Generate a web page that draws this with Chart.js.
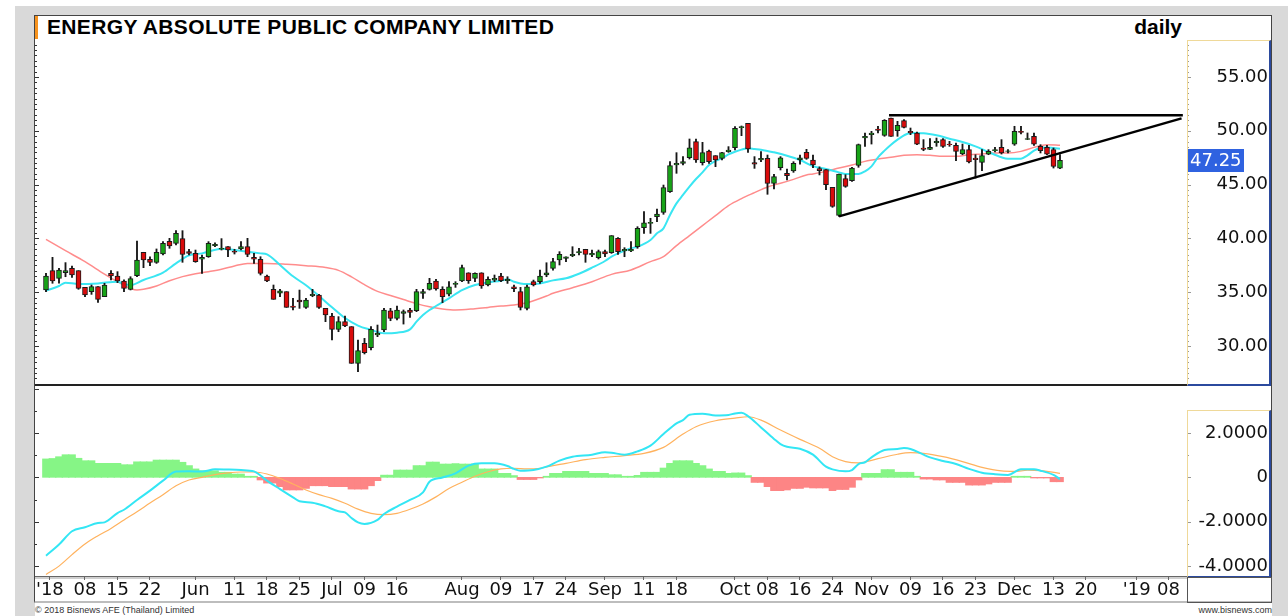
<!DOCTYPE html>
<html><head><meta charset="utf-8">
<script src="https://cdn.jsdelivr.net/npm/chart.js@4.4.0/dist/chart.umd.min.js"></script>
<style>
html,body{margin:0;padding:0;background:#fff;}
body{width:1288px;height:616px;position:relative;overflow:hidden;font-family:'Liberation Sans',Arial,sans-serif;}
.abs{position:absolute;}
.box{box-sizing:border-box;border-left:1px solid #efd999;border-top:1px solid #efd999;border-right:2px solid #2b4a9e;border-bottom:2px solid #2b4a9e;}
</style></head><body>
<div class="abs" style="left:15px;top:6px;width:1273px;height:610px;background:#d9d9d9"></div>
<div class="abs" style="left:35px;top:15px;width:1237px;height:601px;background:#fff"></div>
<div class="abs" style="left:34px;top:15px;width:1238px;height:588px;box-sizing:border-box;border:1px solid #444;border-bottom:2px solid #bdbdbd"></div>
<div class="abs" style="left:35px;top:16px;width:3px;height:23px;background:#f7931e"></div>
<div class="abs" style="left:47px;top:16px;font-weight:bold;font-size:21px;line-height:21px;letter-spacing:0.35px;color:#000;white-space:nowrap">ENERGY ABSOLUTE PUBLIC COMPANY LIMITED</div>
<div class="abs" style="right:106px;top:16px;font-weight:bold;font-size:21px;line-height:21px;color:#000">daily</div>
<div class="abs box" style="left:1187px;top:40px;width:84px;height:346px"></div>
<div class="abs box" style="left:1187px;top:410px;width:84px;height:168px"></div>
<div class="abs" style="left:35px;top:384px;width:1152px;height:2px;background:#222"></div>
<div class="abs" style="left:35px;top:576px;width:1152px;height:1px;background:#666"></div>
<div class="abs" style="left:35px;top:577px;width:1152px;height:2px;background:#cfcfcf"></div>
<div class="abs" style="left:1187px;top:577px;width:85px;height:26px;box-sizing:border-box;border:1px solid #555"></div>
<canvas id="cA" class="abs" style="left:15px;top:40px" width="1253" height="344"></canvas>
<canvas id="cB" class="abs" style="left:15px;top:385px" width="1253" height="217"></canvas>
<div class="abs" style="left:35px;top:606px;font-size:9px;line-height:9px;color:#333;white-space:nowrap">© 2018 Bisnews AFE (Thailand) Limited</div>
<div class="abs" style="right:16px;top:606px;font-size:9px;line-height:9px;color:#333;white-space:nowrap">www.bisnews.com</div>
<script>
// ---- data ----
const open = [35.21,37.0,36.29,36.82,37.22,37.0,35.45,35.05,35.52,34.59,
36.75,36.51,36.04,35.27,36.54,38.71,38.06,37.78,38.55,39.73,
39.54,39.98,38.77,38.61,38.06,38.3,39.33,38.99,39.23,38.8,
39.02,39.23,38.24,38.06,36.51,35.27,34.9,35.05,33.72,34.27,
33.59,34.68,34.74,33.5,32.79,31.55,32.26,31.8,28.39,30.25,
29.84,31.02,31.49,33.28,32.57,33.04,33.35,33.28,34.89,35.27,
36.04,35.27,34.83,35.73,36.04,36.81,36.29,36.81,35.67,36.13,
36.5,36.07,35.51,35.05,33.5,35.98,35.98,36.6,37.22,37.99,
38.15,38.4,38.68,38.99,38.46,38.21,38.77,38.68,40.01,38.83,
38.83,39.23,41.0,41.4,42.02,42.42,44.34,46.82,46.98,47.5,
48.99,47.04,48.12,47.69,47.44,48.06,48.43,50.29,50.7,47.04,
47.29,47.44,45.12,46.58,46.05,46.27,47.29,48.0,47.29,46.5,
46.39,44.75,42.14,45.55,45.37,46.79,49.33,49.64,50.17,49.58,
51.19,50.01,50.94,49.95,49.8,48.4,48.28,48.9,49.18,48.77,
48.65,47.85,48.25,47.47,47.07,47.84,48.15,48.46,48.09,48.77,
49.95,49.21,49.49,48.56,48.46,48.25,46.54];
const high = [36.75,38.24,37.22,37.75,37.44,37.0,35.45,35.67,35.52,35.83,
37.0,36.91,36.14,36.44,39.76,38.71,38.3,39.02,39.7,40.01,
40.72,40.72,38.99,38.92,38.46,39.7,39.6,39.98,39.23,38.99,
39.7,40.01,38.61,38.3,36.6,35.67,35.27,35.05,34.43,35.2,
34.43,35.27,34.8,33.5,33.04,32.73,32.79,31.8,30.56,30.71,
31.8,31.95,33.5,33.5,33.72,33.35,33.5,35.27,35.27,36.29,
36.2,35.51,35.98,35.98,37.53,36.81,36.81,36.81,36.44,36.6,
36.75,36.44,35.67,35.45,35.67,36.13,37.06,37.74,38.15,38.77,
38.3,39.23,39.08,38.99,38.92,38.92,38.92,40.26,40.07,39.14,
39.7,41.09,42.49,41.87,42.73,44.96,47.13,47.97,47.6,49.24,
49.24,48.93,48.22,47.69,48.0,48.53,50.39,50.45,50.7,47.6,
48.06,47.75,45.96,47.6,46.45,47.13,47.75,48.28,47.75,46.65,
46.39,44.75,45.99,45.92,46.61,48.77,49.8,49.95,50.42,51.04,
51.19,50.88,51.04,50.26,49.89,49.18,49.27,49.33,49.27,49.02,
48.87,48.77,48.65,47.78,48.25,48.25,48.46,49.18,48.25,50.42,
50.42,49.8,49.8,48.71,48.65,48.4,47.78];
const low = [35.05,35.83,35.83,36.44,36.38,35.27,34.59,34.8,34.06,34.59,
36.14,35.89,35.05,35.21,36.44,37.28,37.47,37.68,38.46,39.08,
39.39,37.78,38.46,37.78,36.75,38.24,39.23,38.92,38.3,38.55,
38.92,38.3,37.68,36.6,35.98,34.34,34.59,33.59,33.35,33.5,
33.5,34.58,33.5,32.26,30.56,31.33,31.8,28.39,27.61,29.26,
29.63,30.87,31.33,32.35,32.42,32.04,32.66,33.19,34.43,35.2,
35.2,34.03,34.65,35.45,35.98,35.82,35.98,35.36,35.58,35.98,
35.98,35.82,35.05,33.35,33.35,35.58,35.82,36.44,37.06,37.53,
37.84,38.3,38.46,37.78,38.3,38.09,38.3,38.61,38.52,38.3,
38.77,39.08,40.47,40.47,41.56,42.24,44.28,46.05,46.82,47.38,
47.07,46.82,46.98,46.67,47.29,48.0,48.22,49.55,48.0,46.51,
47.13,44.1,44.59,46.36,45.43,46.14,46.89,47.35,46.58,45.9,
44.53,42.89,42.05,44.75,45.3,46.61,48.56,48.77,49.8,49.49,
49.49,49.49,50.26,49.64,48.71,48.15,48.25,48.56,48.46,48.56,
47.23,47.78,47.01,45.61,46.3,47.78,48.03,47.84,47.94,48.65,
49.7,49.18,48.65,47.94,47.78,46.54,46.48];
const close = [36.51,36.04,37.06,37.0,36.6,35.36,34.74,35.52,34.34,35.67,
36.51,36.04,35.36,36.26,37.99,37.99,37.78,38.71,39.54,39.3,
40.47,38.52,38.61,37.84,38.24,39.54,39.45,39.08,38.92,38.72,
39.23,38.52,38.06,36.75,36.04,34.34,35.14,33.59,33.59,34.09,
34.27,34.8,33.59,32.88,31.55,32.26,31.86,28.39,29.57,29.38,
31.55,31.18,33.35,32.57,33.35,33.19,33.13,35.05,35.05,35.82,
35.3,34.58,35.51,35.82,37.28,36.07,36.75,35.58,36.2,36.29,
36.07,36.2,35.33,33.59,35.51,35.67,36.5,36.81,37.84,38.52,
38.3,38.52,38.77,38.52,38.61,38.77,38.55,40.26,38.77,38.99,
38.99,40.94,41.46,41.49,42.27,44.72,46.76,46.98,47.13,48.43,
47.29,47.97,47.13,47.29,47.97,48.22,50.23,50.39,48.31,46.89,
47.44,45.12,45.74,47.5,45.83,46.98,47.5,47.44,46.82,46.3,
44.99,42.98,45.99,44.84,46.54,48.71,49.49,49.8,50.04,50.97,
49.49,50.51,50.32,49.8,48.77,48.28,48.46,49.02,48.56,48.71,
48.09,48.25,47.1,47.32,47.69,48.09,48.25,47.94,48.15,49.95,
49.86,49.27,48.77,48.15,47.84,46.7,47.25];

// moving averages read at sample candles: [candle index, price]
const maFast = [[0,35.14],[2,35.58],[3,35.89],[5,35.76],[8,35.82],[11,35.98],[12,35.76],[13,35.67],[15,36.14],[18,36.82],[20,37.68],[22,38.43],[24,38.61],[27,39.05],[29,38.92],[31,38.77],[33,38.61],[34,38.52],[36,37.53],[38,36.48],[40,35.65],[42,34.65],[44,33.6],[46,32.6],[48,31.9],[50,31.5],[52,31.18],[54,31.24],[56,31.55],[57,32.26],[58,32.88],[59,33.35],[60,33.72],[62,34.43],[64,35.2],[66,35.67],[68,35.92],[70,36.07],[71,36.2],[72,35.98],[73,35.82],[74,35.76],[76,35.82],[78,36.1],[80,36.29],[82,36.72],[84,37.28],[86,37.9],[87,38.3],[88,38.61],[90,39.08],[91,39.23],[93,39.85],[94,40.47],[95,40.94],[96,42.18],[97,43.26],[98,44.04],[99,44.81],[100,45.52],[101,46.14],[102,46.82],[103,47.2],[104,47.44],[105,47.81],[106,48.06],[107,48.25],[108,48.37],[109,48.31],[110,48.25],[112,48.0],[114,47.69],[116,47.29],[118,46.72],[120,46.45],[122,46.14],[123,45.99],[125,45.99],[126,46.23],[127,46.7],[128,47.54],[129,48.16],[130,48.71],[131,49.18],[132,49.58],[133,49.8],[135,49.77],[137,49.58],[139,49.27],[141,48.96],[143,48.56],[145,48.03],[147,47.54],[148,47.41],[150,47.41],[151,47.72],[152,48.16],[153,48.4],[154,48.46],[155,48.4],[156,48.34]];
const maSlow = [[0,39.91],[3,38.86],[6,37.84],[9,36.69],[11,35.98],[13,35.36],[14,35.2],[15,35.27],[17,35.58],[19,36.07],[21,36.45],[23,36.72],[25,36.91],[27,37.13],[29,37.44],[31,37.68],[34,37.68],[37,37.6],[40,37.47],[43,37.3],[45,37.03],[47,36.43],[49,35.7],[51,35.08],[53,34.7],[55,34.32],[57,33.94],[59,33.65],[61,33.45],[63,33.35],[66,33.47],[68,33.59],[70,33.72],[72,33.81],[74,34.03],[75,34.21],[77,34.65],[78,34.9],[81,35.42],[84,35.98],[87,36.66],[90,37.07],[93,37.84],[95,38.3],[97,39.33],[99,40.26],[101,41.19],[103,42.12],[105,43.04],[107,43.7],[109,44.25],[111,44.78],[113,45.12],[115,45.49],[117,45.89],[118,45.99],[120,46.23],[122,46.54],[124,46.82],[126,47.16],[128,47.38],[130,47.54],[132,47.72],[134,47.78],[136,47.72],[138,47.63],[140,47.63],[142,47.78],[144,47.85],[146,47.94],[148,47.94],[150,48.09],[152,48.46],[154,48.71],[156,48.65]];

// MACD: [candle index, value]
const macdLine = [[0,-3.53],[2,-3.03],[4,-2.43],[6,-2.25],[8,-2.06],[9,-2.03],[11,-1.61],[12,-1.46],[14,-1.02],[16,-0.6],[18,-0.15],[20,0.26],[22,0.27],[24,0.26],[26,0.36],[28,0.35],[30,0.33],[32,0.27],[33,0.08],[34,-0.15],[36,-0.53],[38,-0.9],[39,-1.08],[41,-1.14],[43,-1.31],[45,-1.53],[46,-1.58],[47,-1.83],[48,-2.03],[49,-2.1],[51,-1.92],[52,-1.65],[54,-1.32],[56,-1.02],[58,-0.68],[59,-0.2],[61,-0.01],[63,0.18],[65,0.53],[67,0.63],[69,0.63],[71,0.51],[72,0.38],[73,0.3],[75,0.33],[77,0.48],[79,0.75],[81,0.93],[84,1.02],[86,1.13],[87,1.11],[89,1.02],[91,1.17],[93,1.43],[95,1.95],[97,2.43],[98,2.58],[99,2.82],[101,2.87],[103,2.79],[105,2.81],[106,2.88],[107,2.91],[108,2.76],[110,2.25],[112,1.73],[113,1.5],[114,1.38],[116,1.29],[118,1.02],[120,0.48],[121,0.36],[123,0.27],[124,0.33],[125,0.6],[126,0.68],[127,0.9],[129,1.23],[131,1.28],[132,1.32],[133,1.28],[135,1.02],[136,0.9],[138,0.74],[140,0.6],[142,0.38],[144,0.21],[146,0.14],[148,0.11],[150,0.36],[152,0.36],[153,0.3],[155,0.11],[156,-0.08]];
const signalLine = [[0,-4.38],[2,-4.0],[4,-3.48],[6,-3.0],[8,-2.63],[10,-2.3],[12,-1.92],[14,-1.55],[16,-1.16],[18,-0.78],[20,-0.38],[22,-0.12],[24,0],[26,0.12],[28,0.2],[30,0.24],[32,0.24],[34,0.15],[36,-0.05],[38,-0.3],[40,-0.57],[42,-0.78],[44,-0.95],[46,-1.17],[48,-1.43],[50,-1.62],[52,-1.68],[54,-1.62],[56,-1.44],[58,-1.2],[60,-0.88],[62,-0.5],[64,-0.22],[66,0.05],[68,0.25],[70,0.38],[72,0.41],[74,0.38],[76,0.41],[78,0.53],[80,0.63],[83,0.8],[86,0.9],[89,0.98],[92,1.08],[95,1.35],[98,1.95],[100,2.28],[103,2.55],[106,2.67],[108,2.73],[110,2.58],[113,2.13],[116,1.71],[119,1.31],[121,0.93],[123,0.71],[125,0.65],[128,0.84],[131,1.04],[133,1.11],[135,1.08],[138,0.93],[141,0.71],[144,0.45],[147,0.29],[149,0.27],[151,0.32],[153,0.3],[154,0.27],[156,0.18]];
const macdHist = [0.83,0.85,0.93,1.02,1.02,0.86,0.75,0.75,0.63,0.63,
0.63,0.63,0.57,0.57,0.7,0.7,0.7,0.78,0.78,0.78,
0.78,0.68,0.53,0.38,0.3,0.3,0.3,0.23,0.23,0.15,
0.15,0.05,0.05,-0.12,-0.26,-0.26,-0.42,-0.57,-0.57,-0.57,
-0.5,-0.38,-0.38,-0.38,-0.42,-0.42,-0.42,-0.53,-0.53,-0.53,
-0.38,-0.15,0.1,0.1,0.33,0.33,0.33,0.53,0.53,0.69,
0.69,0.6,0.6,0.62,0.6,0.6,0.6,0.38,0.38,0.38,
0.18,0.18,0.08,-0.1,-0.1,-0.1,-0.03,0.05,0.18,0.18,
0.27,0.27,0.27,0.27,0.18,0.18,0.18,0.12,0.12,0.05,
0.05,0.09,0.23,0.23,0.23,0.42,0.63,0.75,0.75,0.75,
0.63,0.53,0.38,0.27,0.27,0.18,0.2,0.2,0.08,-0.23,
-0.23,-0.42,-0.6,-0.6,-0.57,-0.5,-0.5,-0.45,-0.48,-0.48,
-0.48,-0.6,-0.55,-0.55,-0.45,-0.12,0.18,0.18,0.18,0.35,
0.35,0.23,0.23,0.23,0.05,-0.08,-0.08,-0.12,-0.12,-0.23,
-0.23,-0.23,-0.35,-0.35,-0.35,-0.3,-0.23,-0.23,-0.23,0.05,
0.05,0.05,-0.03,-0.03,-0.03,-0.2,-0.2];

// trend lines drawn on the chart: [candle index, price]
const trendUpper = [[129.7,51.45],[174.9,51.45]];
const trendLower = [[122,42.05],[174.7,51.16]];

// axes
const priceTicks = [30,35,40,45,50,55];
const macdTicks = [-4,-2,0,2];
const xTickPos  = [0.6,6,11,16,23,29,34,39,44,49,54,64,70,75,80,86,92,97,106,111,116,121,127,133,138,143,149,155,160,167.8,172.7];
const xTickText = ["'18",'08','15','22','Jun','11','18','25','Jul','09','16','Aug','09','17','24','Sep','11','18','Oct','08','16','24','Nov','09','16','23','Dec','13','20',"'19",'08'];

// ---- chart ----
const X_MIN = -1.692, X_MAX = 175.54;
const AXIS_FONT = {family:'DejaVu Sans', size:18};
const idx = close.map((_, i) => i);
const pts = arr => arr.map(([x, y]) => ({x, y}));

function xScale(show) {
  return {
    type:'linear', min:X_MIN, max:X_MAX, offset:false, display:show,
    afterBuildTicks: s => { s.ticks = xTickPos.map(v => ({value:v})); },
    afterFit: s => { s.paddingLeft = 0; s.paddingRight = 0; if (show) s.height = 25; },
    ticks:{autoSkip:false, maxRotation:0, minRotation:0, padding:0, color:'#111', font:AXIS_FONT,
      callback:(v, i) => xTickText[i]},
    grid:{display:true, drawOnChartArea:false, drawTicks:true, tickLength:3, color:'#666', offset:false},
    border:{display:false}
  };
}
function yScale(min, max, ticks, fmt) {
  return {
    type:'linear', position:'right', min, max,
    afterBuildTicks: s => { s.ticks = ticks.map(v => ({value:v})); },
    afterFit: s => { s.width = 81; s.paddingTop = 0; s.paddingBottom = 0; },
    ticks:{crossAlign:'far', padding:0, color:'#111', font:AXIS_FONT, callback:fmt},
    grid:{display:false}, border:{display:false}
  };
}

const edgeTicks = {
  id:'edgeTicks',
  afterDraw(chart, args, o) {
    const {ctx, chartArea:ca} = chart, ys = chart.scales.y;
    ctx.save(); ctx.lineWidth = 1;
    const start = Math.ceil(ys.min / o.step) * o.step;
    for (let v = start; v <= ys.max + 1e-9; v += o.step) {
      const y = Math.round(ys.getPixelForValue(v)) + 0.5;
      const major = Math.abs(v / o.major - Math.round(v / o.major)) < 1e-6;
      ctx.strokeStyle = '#333';
      ctx.beginPath(); ctx.moveTo(ca.left, y); ctx.lineTo(ca.left + (major ? 4 : 2), y); ctx.stroke();
      if (y > o.boxTop + 2) {
        ctx.strokeStyle = '#999';
        ctx.beginPath(); ctx.moveTo(ca.right + 1, y); ctx.lineTo(ca.right + (major ? 4 : 2), y); ctx.stroke();
      }
    }
    ctx.restore();
  }
};
const lastLabel = {
  id:'lastLabel',
  afterDraw(chart) {
    const {ctx, chartArea:ca} = chart, ys = chart.scales.y;
    const v = close[close.length - 1], y = ys.getPixelForValue(v);
    ctx.save();
    ctx.fillStyle = '#2f62e0'; ctx.fillRect(ca.right + 1, Math.round(y - 11.5), 56, 23);
    ctx.fillStyle = '#fff'; ctx.font = '18px "DejaVu Sans"'; ctx.textAlign = 'left'; ctx.textBaseline = 'middle';
    ctx.fillText(v.toFixed(2), ca.right + 3, y + 1);
    ctx.restore();
  }
};

const common = {
  responsive:false, animation:false, events:[], devicePixelRatio:1,
  layout:{padding:{left:20, right:0, top:0, bottom:0}},
};

new Chart(document.getElementById('cA'), {
  type:'bar',
  data:{datasets:[
    {type:'line', data:pts(maSlow), borderColor:'#ff8c8c', borderWidth:1.5, pointRadius:0, cubicInterpolationMode:'monotone', order:4},
    {type:'line', data:pts(maFast), borderColor:'#3ae6f2', borderWidth:2, pointRadius:0, cubicInterpolationMode:'monotone', order:3},
    {type:'bar', data:idx.map(i => ({x:i, y:[low[i], high[i]]})), backgroundColor:'#161616', barThickness:1.2, grouped:false, order:2},
    {type:'bar', data:idx.map(i => ({x:i, y:[open[i], close[i]]})),
      backgroundColor:idx.map(i => close[i] >= open[i] ? '#17a317' : '#d90b0b'),
      borderColor:'#1a1a1a', borderWidth:1, borderSkipped:false, barThickness:5, grouped:false, order:1},
    {type:'line', data:pts(trendUpper), borderColor:'#000', borderWidth:2.5, pointRadius:0, order:0},
    {type:'line', data:pts(trendLower), borderColor:'#000', borderWidth:2.5, pointRadius:0, order:0}
  ]},
  options:Object.assign({}, common, {
    scales:{ x:xScale(false), y:yScale(26.47, 58.44, priceTicks, v => v.toFixed(2)) },
    plugins:{legend:{display:false}, tooltip:{enabled:false}, edgeTicks:{step:0.5, major:5, boxTop:0}}
  }),
  plugins:[edgeTicks, lastLabel]
});

new Chart(document.getElementById('cB'), {
  type:'bar',
  data:{datasets:[
    {type:'line', data:pts(macdLine), borderColor:'#33e6f4', borderWidth:2, pointRadius:0, cubicInterpolationMode:'monotone', order:0},
    {type:'line', data:pts(signalLine), borderColor:'#ffb25e', borderWidth:1.2, pointRadius:0, cubicInterpolationMode:'monotone', order:1},
    {type:'bar', data:idx.map(i => ({x:i, y:macdHist[i]})),
      backgroundColor:idx.map(i => macdHist[i] >= 0 ? '#86f586' : '#fd8585'),
      borderWidth:0, barThickness:7, grouped:false, order:2}
  ]},
  options:Object.assign({}, common, {
    scales:{ x:xScale(true), y:yScale(-4.49, 4.16, macdTicks, v => v === 0 ? '0' : v.toFixed(4)) },
    plugins:{legend:{display:false}, tooltip:{enabled:false}, edgeTicks:{step:1, major:2, boxTop:25}}
  }),
  plugins:[edgeTicks]
});
</script>
</body></html>
